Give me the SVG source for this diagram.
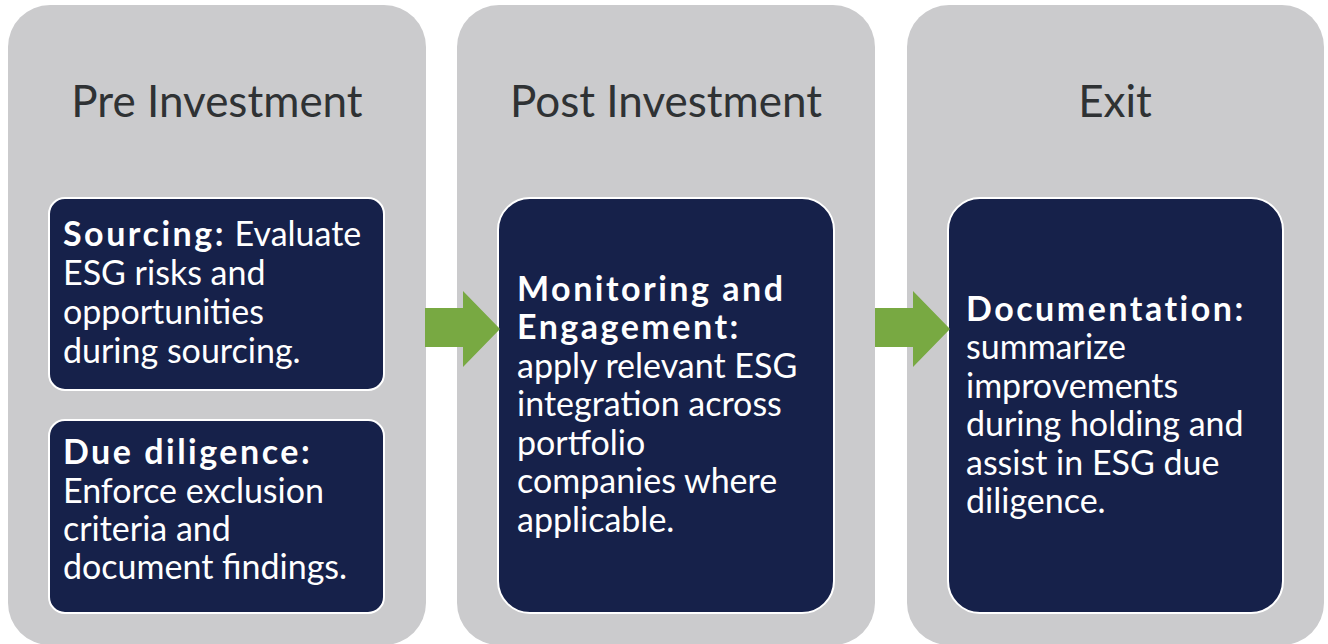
<svg xmlns="http://www.w3.org/2000/svg" width="1328" height="644" viewBox="0 0 1328 644">
<style>
.panel{fill:#CBCBCD}
.box{fill:#16214A;stroke:#FFFFFF;stroke-width:2}
.title{font-family:Lato,"Open Sans",sans-serif;font-size:44px;fill:#2F3234;text-anchor:middle}
.body{font-family:Lato,"Open Sans",sans-serif;font-size:34px;fill:#FFFFFF}
.b{font-weight:bold;letter-spacing:2.5px}
.arrow{fill:#78A942}
</style>
<rect width="1328" height="644" fill="#FFFFFF"/>
<g id="pre-investment">
<rect class="panel" x="8" y="5" width="418" height="640" rx="42"/>
<text class="title" x="217" y="117">Pre Investment</text>
</g>
<g id="post-investment">
<rect class="panel" x="457" y="5" width="418" height="640" rx="42"/>
<text class="title" x="666" y="117">Post Investment</text>
</g>
<g id="exit">
<rect class="panel" x="907" y="5" width="417" height="640" rx="42"/>
<text class="title" x="1115" y="117">Exit</text>
</g>
<g id="sourcing">
<rect class="box" x="49" y="198" width="335" height="192" rx="16"/>
<text class="body"><tspan x="63" y="246"><tspan class="b">Sourcing:</tspan> Evaluate</tspan><tspan x="63" y="285">ESG risks and</tspan><tspan x="63" y="324">opportunities</tspan><tspan x="63" y="363">during sourcing.</tspan></text>
</g>
<g id="due-diligence">
<rect class="box" x="49" y="420" width="335" height="193" rx="16"/>
<text class="body"><tspan x="63" y="464" class="b">Due diligence:</tspan><tspan x="63" y="503">Enforce exclusion</tspan><tspan x="63" y="541">criteria and</tspan><tspan x="63" y="579">document findings.</tspan></text>
</g>
<g id="monitoring">
<rect class="box" x="498" y="198" width="336" height="415" rx="32"/>
<text class="body"><tspan x="517" y="301" class="b">Monitoring and</tspan><tspan x="517" y="339" class="b">Engagement:</tspan><tspan x="517" y="378">apply relevant ESG</tspan><tspan x="517" y="416">integration across</tspan><tspan x="517" y="455">portfolio</tspan><tspan x="517" y="493">companies where</tspan><tspan x="517" y="532">applicable.</tspan></text>
</g>
<g id="documentation">
<rect class="box" x="948" y="198" width="335" height="415" rx="32"/>
<text class="body"><tspan x="966" y="321" class="b">Documentation:</tspan><tspan x="966" y="359">summarize</tspan><tspan x="966" y="398">improvements</tspan><tspan x="966" y="436">during holding and</tspan><tspan x="966" y="475">assist in ESG due</tspan><tspan x="966" y="513">diligence.</tspan></text>
</g>
<g id="connectors">
<polygon class="arrow" points="425,308 463,308 463,291 500,329 463,367 463,347 425,347"/>
<polygon class="arrow" points="875,308 913,308 913,291 950,329 913,367 913,347 875,347"/>
</g>
</svg>
